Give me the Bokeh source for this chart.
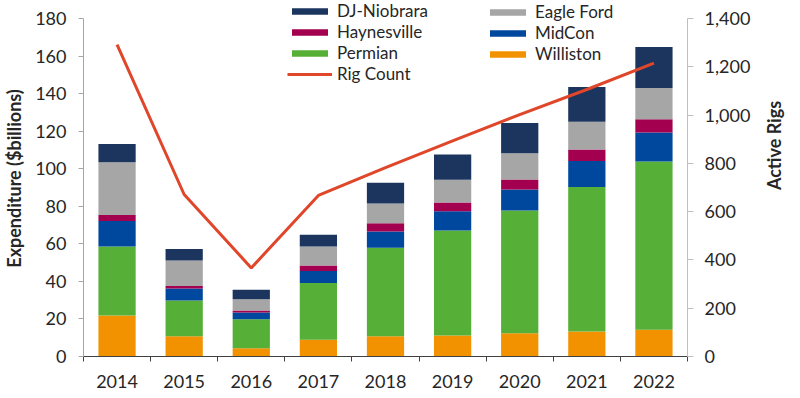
import math
from bokeh.plotting import figure
from bokeh.layouts import row
from bokeh.models import (Range1d, LinearAxis, FixedTicker, NumeralTickFormatter,
                          Legend, LegendItem, ColumnDataSource, Label)
from bokeh.embed import file_html
from bokeh.resources import INLINE

years = ["2014", "2015", "2016", "2017", "2018", "2019", "2020", "2021", "2022"]
williston = [21.8, 10.8, 4.4, 8.9, 10.8, 11.2, 12.4, 13.3, 14.2]
permian = [36.8, 19.0, 15.5, 30.2, 47.1, 55.9, 65.4, 76.9, 89.7]
midcon = [13.5, 6.4, 3.5, 6.4, 8.7, 10.2, 11.2, 13.9, 15.4]
haynesville = [3.2, 1.3, 1.1, 3.0, 4.4, 4.7, 5.3, 6.2, 7.0]
eagle_ford = [28.1, 13.6, 6.0, 10.1, 10.5, 12.1, 14.0, 14.7, 16.7]
dj_niobrara = [9.8, 6.1, 5.0, 6.2, 11.0, 13.5, 16.0, 18.5, 21.8]
rig_count = [1292, 671, 367, 667, 782, 893, 1002, 1106, 1215]

left_ticks = [0, 20, 40, 60, 80, 100, 120, 140, 160, 180]
right_ticks = [0, 200, 400, 600, 800, 1000, 1200, 1400]

series = ["Williston", "Permian", "MidCon", "Haynesville", "Eagle Ford", "DJ-Niobrara"]
colors = {"Williston": "#F39200", "Permian": "#56AF37", "MidCon": "#00489E",
          "Haynesville": "#A3004F", "Eagle Ford": "#A6A6A6", "DJ-Niobrara": "#1C355E"}
line_color = "#E0462A"
FONT = "Lato"

# frame spans the full height above the x axis so the legend (drawn in the
# frame) can sit above the top tick; axes are bounded to their tick range
FRAME_H = 356
AXIS_H = 338
left_max = left_ticks[-1]
right_max = right_ticks[-1]

xpos = [i + 0.5 for i in range(len(years))]
src = ColumnDataSource(dict(x=xpos, Williston=williston, Permian=permian, MidCon=midcon,
                            Haynesville=haynesville, **{"Eagle Ford": eagle_ford,
                                                        "DJ-Niobrara": dj_niobrara},
                            rigs=rig_count))

p = figure(width=760, height=398, output_backend="svg", toolbar_location=None,
           x_range=Range1d(0, len(years)),
           y_range=Range1d(0, left_max * FRAME_H / AXIS_H),
           min_border_left=82, min_border_right=73, min_border_top=0, min_border_bottom=42)
p.extra_y_ranges = {"rigs": Range1d(0, right_max * FRAME_H / AXIS_H)}
p.outline_line_color = None
p.xgrid.visible = False
p.ygrid.visible = False
p.background_fill_color = "white"
p.border_fill_color = "white"

bars = p.vbar_stack(series, x="x", width=0.555, source=src,
                    color=[colors[s] for s in series], line_color=None)
bar_r = dict(zip(series, bars))
line = p.line(x="x", y="rigs", source=src, y_range_name="rigs",
              line_color=line_color, line_width=3)

# x axis
xa = p.xaxis[0]
xa.ticker = FixedTicker(ticks=xpos, minor_ticks=list(range(len(years) + 1)))
xa.major_label_overrides = {x: y for x, y in zip(xpos, years)}
xa.major_tick_line_color = None
xa.major_tick_out = 5
xa.major_tick_in = 0
xa.minor_tick_out = 5
xa.minor_tick_in = 0
xa.minor_tick_line_color = "#404040"
xa.axis_line_color = "#404040"
xa.major_label_text_font = FONT
xa.major_label_text_font_size = "18px"
xa.major_label_text_color = "#262626"
xa.major_label_standoff = 13

# left axis
ya = p.yaxis[0]
ya.ticker = FixedTicker(ticks=left_ticks)
ya.bounds = (0, left_max)
ya.minor_tick_line_color = None
ya.major_tick_in = 0
ya.major_tick_out = 5
ya.axis_line_color = "#A6A6A6"
ya.major_tick_line_color = "#A6A6A6"
ya.major_label_text_font = FONT
ya.major_label_text_font_size = "18px"
ya.major_label_text_color = "#262626"
ya.major_label_standoff = 12
ya.axis_label = "Expenditure ($billions)"
ya.axis_label_text_font = FONT
ya.axis_label_text_font_style = "bold"
ya.axis_label_text_font_size = "18px"
ya.axis_label_text_color = "#262626"
ya.axis_label_standoff = 7

# right axis (its title is drawn in the narrow panel beside the plot)
ra = LinearAxis(y_range_name="rigs", ticker=FixedTicker(ticks=right_ticks),
                formatter=NumeralTickFormatter(format="0,0"))
ra.bounds = (0, right_max)
ra.minor_tick_line_color = None
ra.major_tick_in = 0
ra.major_tick_out = 6
ra.axis_line_color = "#BFBFBF"
ra.major_tick_line_color = "#BFBFBF"
ra.major_label_text_font = FONT
ra.major_label_text_font_size = "18px"
ra.major_label_text_color = "#262626"
ra.major_label_standoff = 11
p.add_layout(ra, "right")


def make_legend(items, loc):
    return Legend(items=items, location=loc, orientation="vertical",
                  glyph_width=45, glyph_height=8, label_height=20, spacing=-2,
                  label_standoff=5, padding=0, margin=0,
                  border_line_color=None, background_fill_alpha=0,
                  label_text_font=FONT, label_text_font_size="17px",
                  label_text_color="#262626")


leg1 = make_legend([LegendItem(label="DJ-Niobrara", renderers=[bar_r["DJ-Niobrara"]]),
                    LegendItem(label="Haynesville", renderers=[bar_r["Haynesville"]]),
                    LegendItem(label="Permian", renderers=[bar_r["Permian"]]),
                    LegendItem(label="Rig Count", renderers=[line])], (204, 272))
leg2 = make_legend([LegendItem(label="Eagle Ford", renderers=[bar_r["Eagle Ford"]]),
                    LegendItem(label="MidCon", renderers=[bar_r["MidCon"]]),
                    LegendItem(label="Williston", renderers=[bar_r["Williston"]])], (402, 292))
p.add_layout(leg1, "center")
p.add_layout(leg2, "center")

# narrow side panel holding the right-axis title, reading bottom-to-top
p2 = figure(width=40, height=398, output_backend="svg", toolbar_location=None,
            x_axis_location=None, y_axis_location=None, min_border=0,
            min_border_left=0, min_border_right=0, min_border_top=0, min_border_bottom=0,
            x_range=Range1d(0, 1), y_range=Range1d(0, 1))
p2.outline_line_color = None
p2.xgrid.visible = False
p2.ygrid.visible = False
p2.background_fill_color = "white"
p2.border_fill_color = "white"
p2.add_layout(Label(x=13, y=211, x_units="screen", y_units="screen", text="Active Rigs",
                    angle=math.pi / 2, text_align="center", text_baseline="middle",
                    text_font=FONT, text_font_style="bold", text_font_size="18px",
                    text_color="#262626"))

layout = row(p, p2, spacing=0)
open("out.html", "w").write(file_html(layout, INLINE))
